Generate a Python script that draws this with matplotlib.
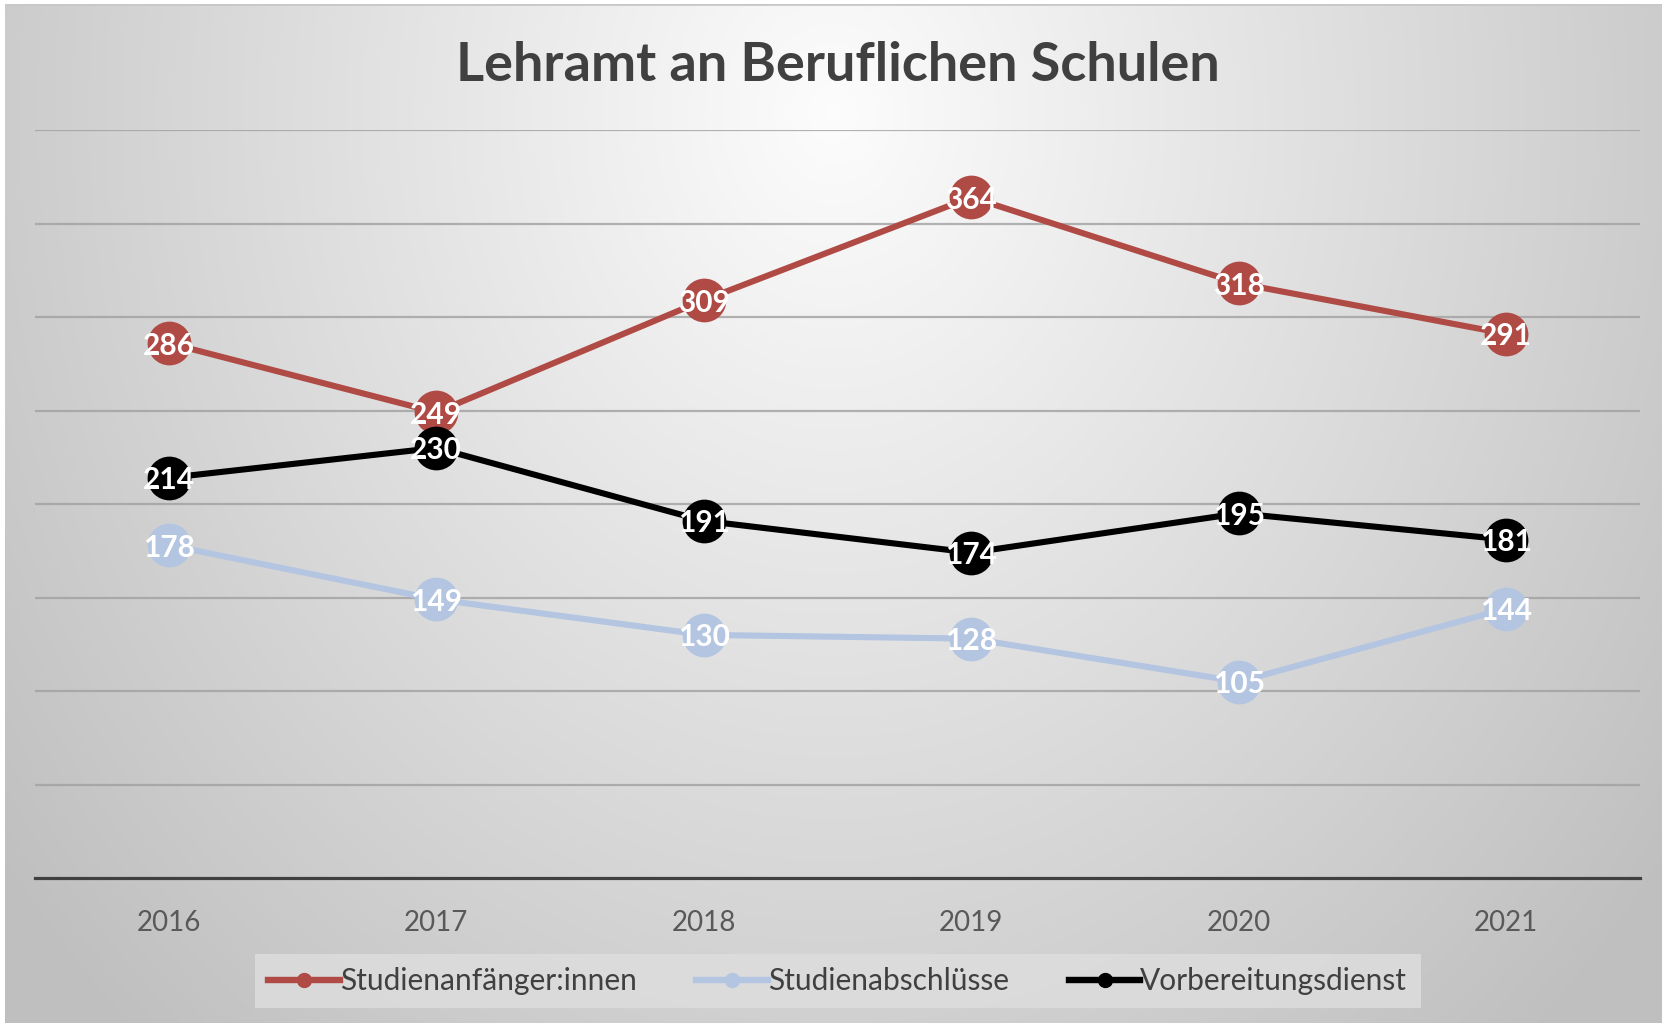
import numpy as np
import matplotlib
matplotlib.use("Agg")
from matplotlib import pyplot as plt
from matplotlib.lines import Line2D

plt.rcParams['font.family'] = ['Lato', 'DejaVu Sans']

# data
jahre = ['2016', '2017', '2018', '2019', '2020', '2021']
anfaenger = [286, 249, 309, 364, 318, 291]
abschluesse = [178, 149, 130, 128, 105, 144]
vorbereitung = [214, 230, 191, 174, 195, 181]

serien = [
    ('Studienanfänger:innen', anfaenger, '#b04a45'),
    ('Studienabschlüsse', abschluesse, '#b3c5e1'),
    ('Vorbereitungsdienst', vorbereitung, '#000000'),
]

W, H = 1662, 1023
fig = plt.figure(figsize=(W / 100, H / 100), dpi=100)

# radial grey background
bg = fig.add_axes([5 / W, 0, 1 - 5 / W, 1 - 4 / H])
yy, xx = np.mgrid[0:H, 0:W]
d = np.sqrt(((xx - 830) / 920.0) ** 2 + ((yy - 110) / 1100.0) ** 2)
shade = np.clip(0.99 - 0.21 * d, 0.75, 1.0)
bg.imshow(np.dstack([shade] * 3), aspect='auto', extent=[0, 1, 0, 1])
bg.axhline(1, color='#c8c8c8', lw=2)
bg.set_axis_off()

ax = fig.add_axes([35 / W, 1 - 878 / H, 1605 / W, (878 - 130) / H])
ax.patch.set_alpha(0)
x = np.arange(len(jahre))

for name, vals, col in serien:
    ax.plot(x, vals, color=col, lw=4.4, marker='o', ms=31.5,
            markeredgewidth=0, zorder=3, label=name)
for name, vals, col in serien:
    for xi, v in zip(x, vals):
        ax.text(xi, v, str(v), ha='center', va='center_baseline', color='white',
                fontsize=21.5, fontweight='bold', zorder=5)

ax.set_xlim(-0.5, len(jahre) - 0.5)
ax.set_ylim(0, 400)
ax.set_yticks(np.arange(50, 401, 50))
ax.yaxis.grid(True, color='#a0a0a0', lw=1.6, alpha=0.8)
ax.tick_params(axis='y', left=False, labelleft=False)
ax.set_xticks(x)
ax.set_xticklabels(jahre, fontsize=20, color='#595959')
ax.tick_params(axis='x', length=0, pad=23)
for s in ['top', 'right', 'left']:
    ax.spines[s].set_visible(False)
ax.spines['bottom'].set_color('#404040')
ax.spines['bottom'].set_linewidth(2.3)

fig.text(0.504, 1 - 66 / H, 'Lehramt an Beruflichen Schulen', ha='center',
         va='center', fontsize=39, fontweight='bold', color='#404040')

handles = [Line2D([0], [0], color=c, lw=4.6, marker='o', ms=10) for _, _, c in serien]
leg = fig.legend(handles, [n for n, _, _ in serien], loc='center',
                 bbox_to_anchor=(0.504, 1 - 981 / H), ncol=3, fontsize=21.5,
                 frameon=True, fancybox=False, handlelength=2.4,
                 handletextpad=0.0, columnspacing=2.0, borderpad=0.45,
                 borderaxespad=0)
leg.get_frame().set_facecolor('#dddddd')
leg.get_frame().set_edgecolor('none')
leg.get_frame().set_alpha(0.85)
for t in leg.get_texts():
    t.set_color('#404040')

fig.savefig('out.png', dpi=100)
